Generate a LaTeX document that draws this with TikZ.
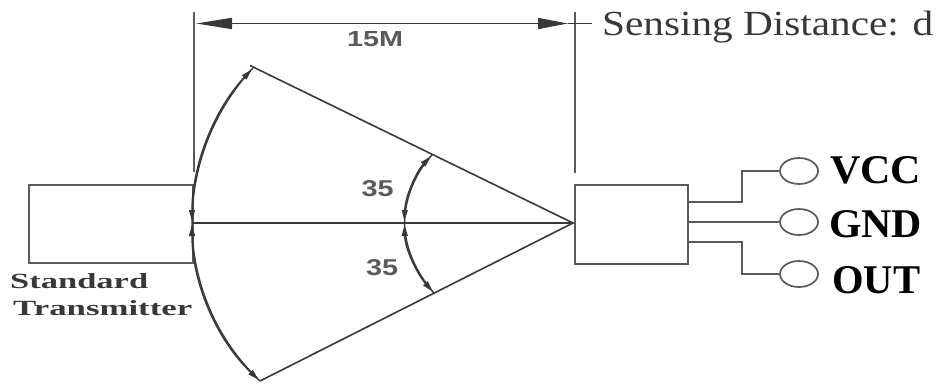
\documentclass[tikz,border=0pt]{standalone}
\usepackage{fontspec}
\setmainfont{Liberation Serif}
\setsansfont{Liberation Sans}
\usetikzlibrary{arrows.meta,shapes.geometric}
\definecolor{ink}{HTML}{383838}
\definecolor{soft}{HTML}{5A5A5A}
\tikzset{
  boxnode/.style={draw=soft,line width=1.8pt,inner sep=0pt,anchor=north west},
  line/.style={draw=ink,line width=1.6pt},
  wire/.style={draw=soft,line width=1.8pt},
  arcline/.style={draw=ink,line width=1.4pt,postaction={draw,{arctip}-{arctip}}},
  pin/.style={ellipse,draw=soft,line width=1.7pt,minimum width=38pt,minimum height=26pt,inner sep=0pt},
  pinlabel/.style={font=\bfseries,text=black,inner sep=0pt,anchor=base west},
  grey/.style={font=\sffamily\bfseries,text=soft,inner sep=0pt,anchor=base west},
  small/.style={font=\bfseries,text=ink,inner sep=0pt,anchor=base west},
  dimtipL/.tip={Triangle[length=36pt,width=11pt]},
  dimtipR/.tip={Triangle[length=30pt,width=11pt]},
  arctip/.tip={Triangle[length=11pt,width=6pt,sep=2pt]}
}
\begin{document}
\begin{tikzpicture}[x=1pt,y=-1pt]
\useasboundingbox (0,0) rectangle (936,385);
% boxes
\node[boxnode,minimum width=164pt,minimum height=78pt] (tx) at (28,184) {};
\node[boxnode,minimum width=113pt,minimum height=79pt] (rx) at (574,184) {};
% geometry points
\coordinate (apex) at (573,223);
\coordinate (axis) at (192,223);
\coordinate (top) at (253,68);
\coordinate (topx) at (250,65.5);
\coordinate (bot) at (260,381);
\coordinate (itop) at (432,155);
\coordinate (ibot) at (434,293);
\coordinate (imid) at (404.5,223);
\coordinate (dimL) at (196,23.5);
\coordinate (dimR) at (568,23.5);
\coordinate (dimEnd) at (592,23.5);
\coordinate (extLt) at (194,12);
\coordinate (extLb) at (194,172);
\coordinate (extRt) at (575,12);
\coordinate (extRb) at (575,173);
% sector
\draw[line] (axis) -- (apex);
\draw[line] (topx) -- (apex) -- (bot);
\draw[arcline] (axis) .. controls (192,165.5) and (213.7,110) .. (top);
\draw[arcline] (axis) .. controls (192,282.8) and (216.6,339.9) .. (bot);
\draw[arcline] (itop) .. controls (416,172) and (405,197) .. (imid);
\draw[arcline] (ibot) .. controls (418,275) and (405,250) .. (imid);
% dimension
\draw[wire] (extLt) -- (extLb);
\draw[wire] (extRt) -- (extRb);
\draw[line,{dimtipL}-{dimtipR}] (dimL) -- (dimR);
\draw[line] (dimR) -- (dimEnd);
% pins
\node[pin] (vcc) at (799,171) {};
\node[pin] (gnd) at (799,222) {};
\node[pin] (out) at (799,274) {};
\coordinate (w1) at (687,202);
\coordinate (w3) at (687,242);
\draw[wire] (w1) -| (742,171) -- (vcc.west);
\draw[wire] (rx.east |- gnd) -- (gnd.west);
\draw[wire] (w3) -| (742,274) -- (out.west);
% texts
\node[pinlabel] (vccl) at (830,183) {\resizebox{91pt}{27pt}{VCC}};
\node[pinlabel] (gndl) at (829,237) {\resizebox{93pt}{27pt}{GND}};
\node[pinlabel] (outl) at (832,293) {\resizebox{88pt}{27pt}{OUT}};
\node[anchor=base west,inner sep=0pt,text=ink] (sens) at (602,36) {\resizebox{331pt}{24.5pt}{Sensing Distance: d}};
\node[grey] (m15) at (347,47) {\resizebox{56pt}{15pt}{15M}};
\node[grey] (a1) at (361.5,196) {\resizebox{32pt}{16pt}{35}};
\node[grey] (a2) at (366,275) {\resizebox{32pt}{16pt}{35}};
\node[small] (s1) at (10,288) {\resizebox{138pt}{15pt}{Standard}};
\node[small] (s2) at (13,315) {\resizebox{179pt}{15pt}{Transmitter}};
\end{tikzpicture}
\end{document}
